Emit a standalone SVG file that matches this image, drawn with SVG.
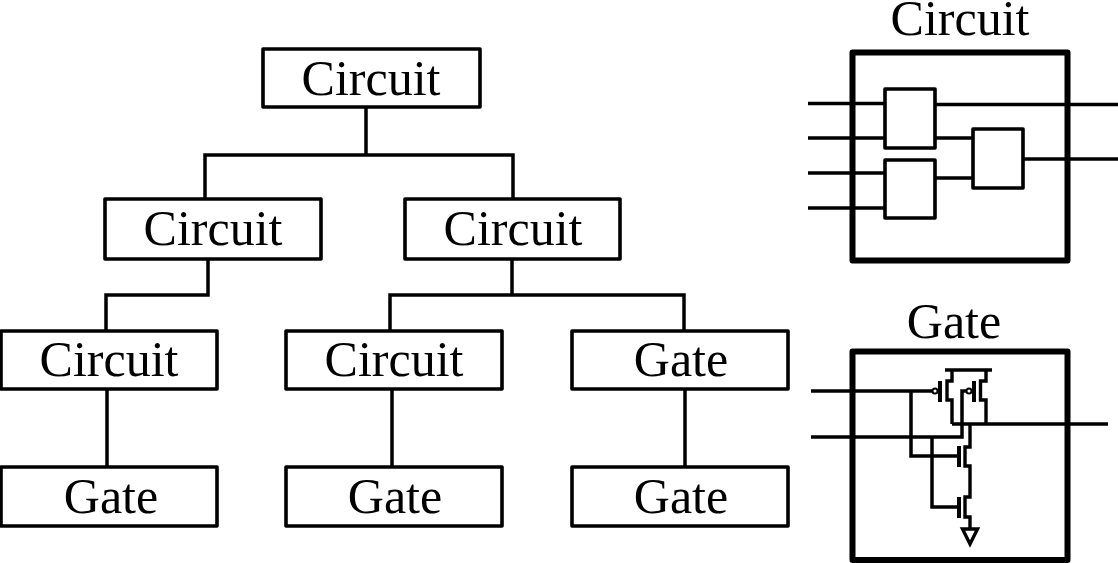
<svg xmlns="http://www.w3.org/2000/svg" width="1118" height="563" viewBox="0 0 1118 563">
<style>
text{font-family:"Liberation Serif","Times New Roman",serif;font-size:50px;fill:#000;text-anchor:middle}
.box{fill:#fff;stroke:#000;stroke-width:3.600;stroke-linejoin:round}
.frame{fill:none;stroke:#000;stroke-width:6;stroke-linejoin:round}
.gatebox{fill:#fff;stroke:#000;stroke-width:3.600;stroke-linejoin:round}
.w{fill:none;stroke:#000;stroke-width:3.500}
.t{fill:none;stroke:#000;stroke-width:3.400}
.p{fill:none;stroke:#000;stroke-width:4}
</style>
<rect width="1118" height="563" fill="#fff"/>
<g id="connectors">
<path class="w" d="M366 107V155M205 199V155H513V199M208 259V295H106V331M512 259V295M390 331V295H684V331M107 389V467M392 389V467M685 389V467"/>
</g>
<g id="n1"><rect class="box" x="263" y="49" width="217" height="58"/><text x="371" y="95">Circuit</text></g>
<g id="n2"><rect class="box" x="105" y="199" width="216" height="60"/><text x="213" y="245">Circuit</text></g>
<g id="n3"><rect class="box" x="405" y="199" width="215" height="60"/><text x="513" y="245">Circuit</text></g>
<g id="n4"><rect class="box" x="1" y="331" width="216" height="58"/><text x="109" y="376">Circuit</text></g>
<g id="n5"><rect class="box" x="286" y="331" width="216" height="58"/><text x="394" y="376">Circuit</text></g>
<g id="n6"><rect class="box" x="572" y="331" width="216" height="58"/><text x="681" y="376">Gate</text></g>
<g id="n7"><rect class="box" x="1" y="467" width="216" height="59"/><text x="111" y="513">Gate</text></g>
<g id="n8"><rect class="box" x="286" y="467" width="216" height="59"/><text x="395" y="513">Gate</text></g>
<g id="n9"><rect class="box" x="572" y="467" width="216" height="59"/><text x="681" y="513">Gate</text></g>
<g id="circuit-detail">
<text x="960" y="35">Circuit</text>
<path class="w" d="M808 103.500H885M808 138H885M808 173H885M808 208H885M935 104.500H1118M935 138H973M935 178H973M1023 159H1118"/>
<rect class="frame" x="852.500" y="52.500" width="215" height="208"/>
<rect class="gatebox" x="885" y="89" width="50" height="59"/>
<rect class="gatebox" x="885" y="160" width="50" height="58"/>
<rect class="gatebox" x="973" y="129" width="50" height="59"/>
</g>
<g id="gate-detail">
<text x="954" y="338">Gate</text>
<path class="w" d="M811 391H932M811 437H962V391H966.500M911 391V456H959M932 437V507H959M952 424H1108"/>
<rect class="frame" x="852.500" y="351.500" width="215" height="208.500"/>
<path class="t" d="M945 370H992"/>
<path class="t" d="M952 370V381H947V400H952V424M986 370V381H980.500V400H986V424M970 424V447H965V466H970V497H965V517H970V529"/>
<path class="p" d="M940 381V402M974 381V402M959 446V467M959 497V518"/>
<circle cx="935" cy="391" r="2.500" fill="#fff" stroke="#000" stroke-width="2"/>
<circle cx="969" cy="391" r="2.500" fill="#fff" stroke="#000" stroke-width="2"/>
<path class="t" d="M962.500 529H977.500L970 544Z"/>
</g>
</svg>
